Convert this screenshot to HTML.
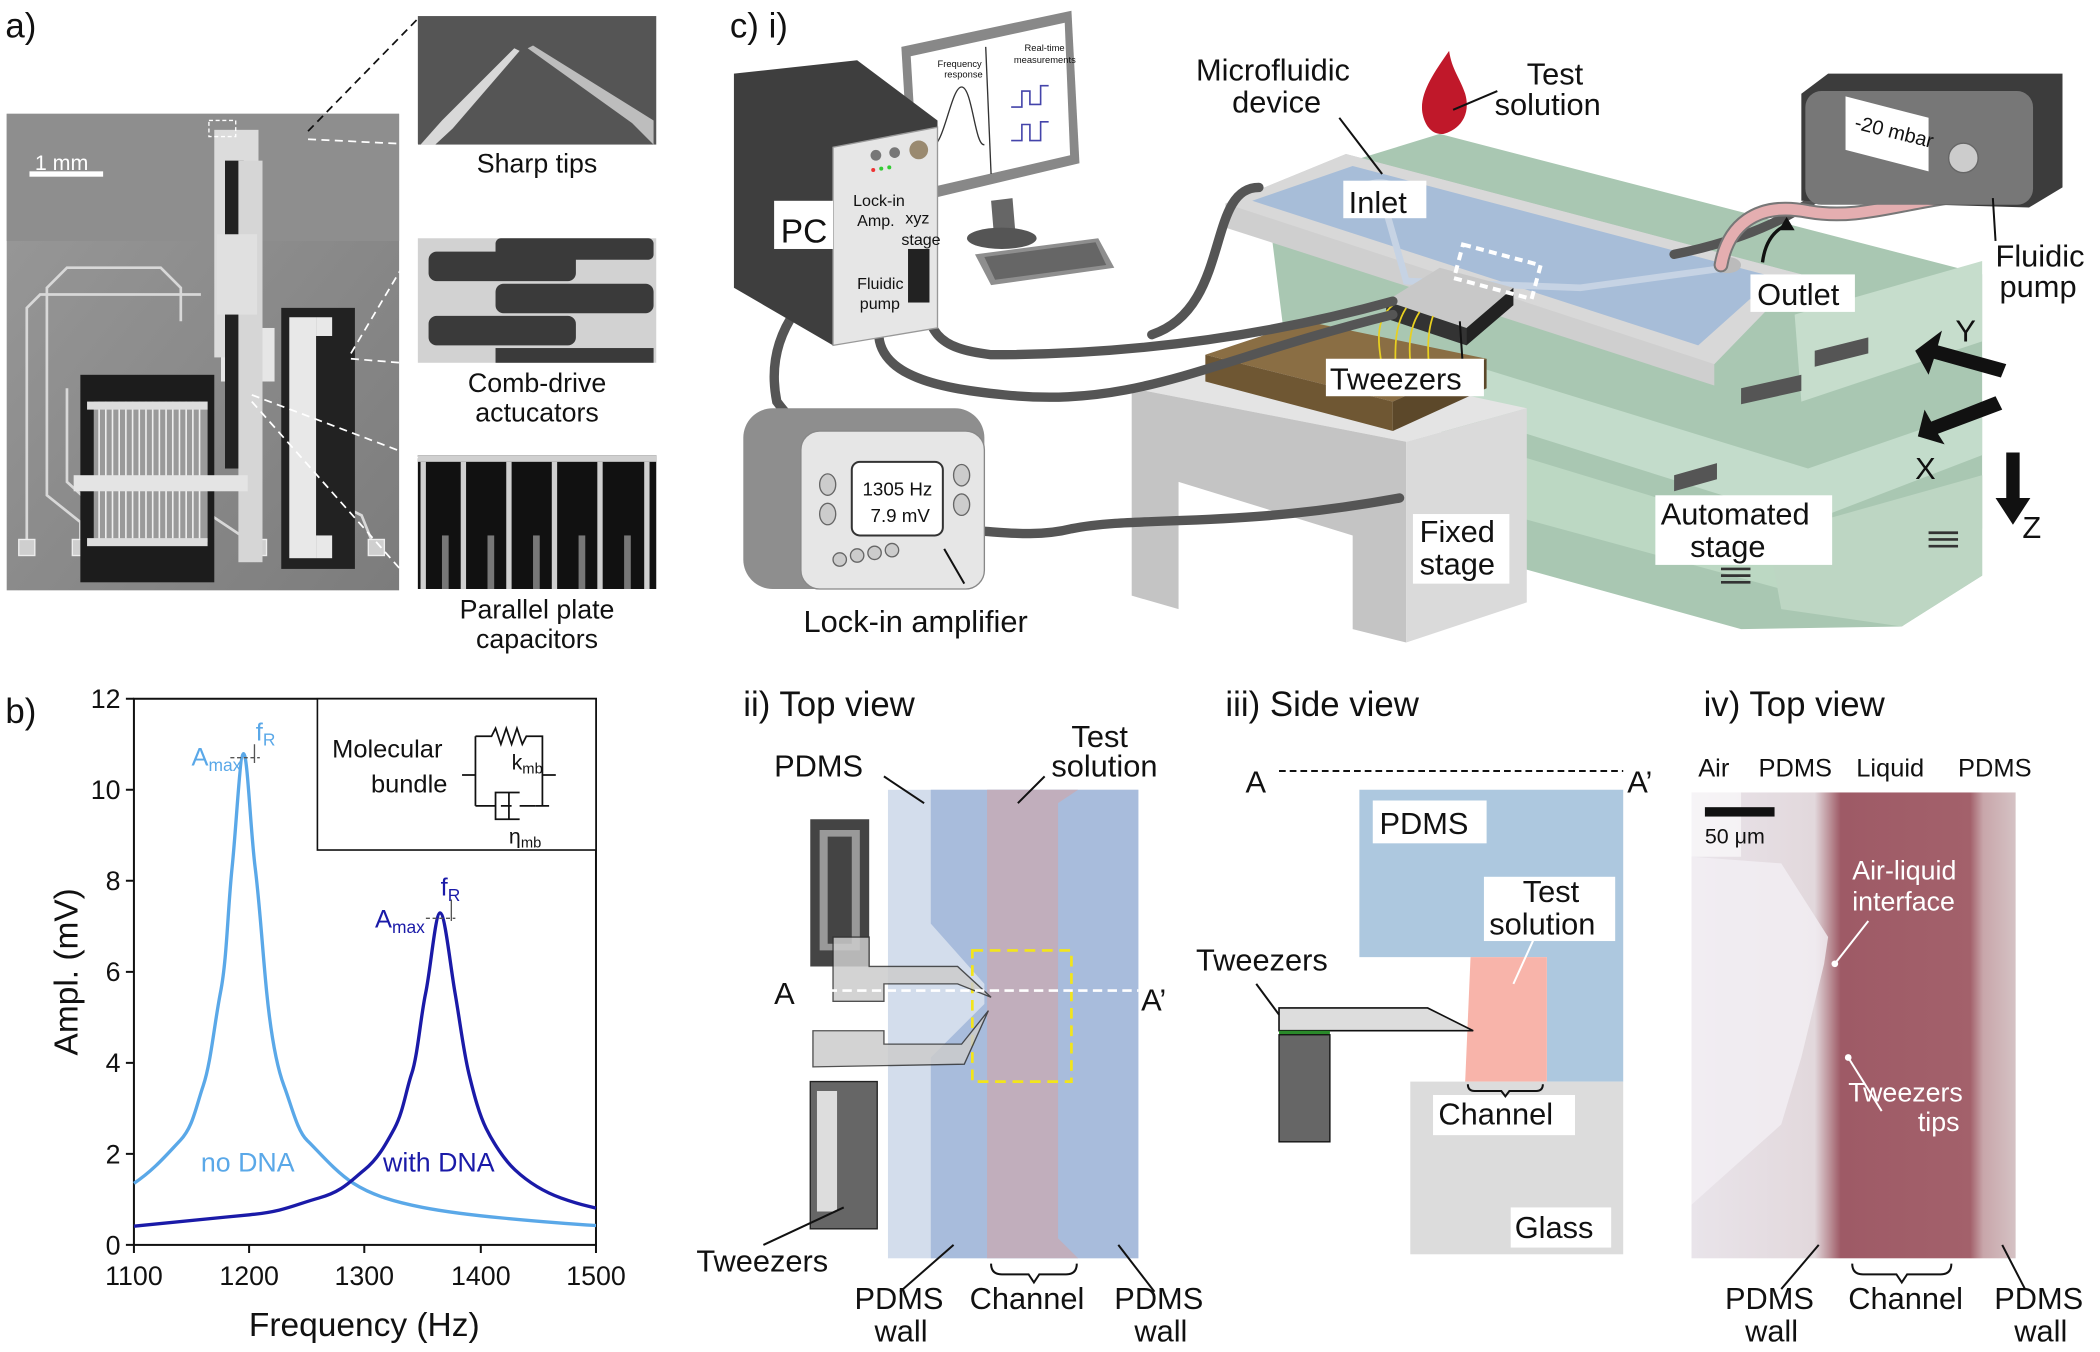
<!DOCTYPE html>
<html><head><meta charset="utf-8"><style>
html,body{margin:0;padding:0;background:#fff}
svg{display:block}
text{font-family:"Liberation Sans",Arial,sans-serif;fill:#111}
</style></head><body>
<svg width="2100" height="1352" viewBox="0 0 1568 1010" preserveAspectRatio="none" xmlns="http://www.w3.org/2000/svg">
<defs>
<linearGradient id="sem" x1="0" y1="0" x2="1" y2="1"><stop offset="0" stop-color="#9a9a9a"/><stop offset="1" stop-color="#7c7c7c"/></linearGradient>
<linearGradient id="iv" x1="0" y1="0" x2="1" y2="0"><stop offset="0" stop-color="#e9e4ea"/><stop offset="0.38" stop-color="#e2d8dc"/><stop offset="0.43" stop-color="#b88a92"/><stop offset="0.46" stop-color="#9e5a66"/><stop offset="0.86" stop-color="#a3616b"/><stop offset="0.9" stop-color="#c8a6aa"/><stop offset="1" stop-color="#d5c2c4"/></linearGradient>
</defs>

<!-- ========== Panel a ========== -->
<text x="4" y="28" font-size="26">a)</text>
<rect x="5" y="85" width="293" height="356" fill="url(#sem)"/>
<rect x="5" y="85" width="293" height="95" fill="#8e8e8e"/>
<rect x="22" y="128" width="55" height="4" fill="#fff"/>
<text x="26" y="127" font-size="16" style="fill:#fff">1 mm</text>
<g fill="none" stroke="#d8d8d8" stroke-width="2">
<path d="M20,410 V230 L30,220 H150"/><path d="M60,410 V390 L35,370 V215 L50,200 H120 L135,215 V240"/>
<path d="M105,410 L50,360 V290"/><path d="M150,410 L65,355"/><path d="M195,410 L150,380 V345"/>
<path d="M240,410 L215,385 V340"/><path d="M280,410 L270,385 L250,375"/>
</g>
<g fill="#cfcfcf" stroke="#eee" stroke-width="1">
<rect x="14" y="403" width="12" height="12"/><rect x="54" y="403" width="12" height="12"/><rect x="98" y="403" width="12" height="12"/><rect x="143" y="403" width="12" height="12"/><rect x="187" y="403" width="12" height="12"/><rect x="231" y="403" width="12" height="12"/><rect x="275" y="403" width="12" height="12"/>
</g>
<rect x="165" y="245" width="40" height="40" fill="#e6e6e6"/>
<rect x="160" y="97" width="33" height="170" fill="#dcdcdc"/>
<rect x="168" y="120" width="14" height="230" fill="#222"/>
<rect x="178" y="120" width="18" height="300" fill="#d6d6d6"/>
<rect x="162" y="175" width="30" height="60" fill="#e0e0e0"/>
<rect x="210" y="230" width="55" height="195" fill="#222"/>
<rect x="216" y="237" width="20" height="180" fill="#e8e8e8"/>
<rect x="236" y="237" width="12" height="14" fill="#e8e8e8"/><rect x="236" y="400" width="12" height="17" fill="#e8e8e8"/>
<rect x="60" y="280" width="100" height="155" fill="#1c1c1c"/>
<rect x="70" y="300" width="85" height="105" fill="#9a9a9a"/>
<g stroke="#eee" stroke-width="1.2"><path d="M74,300V405M79,300V405M84,300V405M89,300V405M94,300V405M99,300V405M104,300V405M109,300V405M114,300V405M119,300V405M124,300V405M129,300V405M134,300V405M139,300V405M144,300V405M149,300V405"/></g>
<rect x="55" y="355" width="130" height="12" fill="#e4e4e4"/>
<rect x="65" y="300" width="90" height="6" fill="#ddd"/><rect x="65" y="402" width="90" height="6" fill="#ddd"/>
<rect x="312" y="12" width="178" height="96" fill="#555"/>
<polygon points="314,108 330,90 384,36 388,38 338,96 325,108" fill="#d8d8d8"/>
<polygon points="488,108 472,92 394,36 398,34 488,90" fill="#bdbdbd"/>
<rect x="312" y="178" width="178" height="93" fill="#d2d2d2"/>
<g fill="#3a3a3a"><rect x="320" y="188" width="110" height="22" rx="6"/><rect x="320" y="236" width="110" height="22" rx="6"/><rect x="370" y="178" width="118" height="16" rx="4"/><rect x="370" y="212" width="118" height="22" rx="6"/><rect x="370" y="260" width="118" height="11"/></g>
<rect x="312" y="340" width="178" height="100" fill="#111"/>
<g fill="#d0d0d0"><rect x="312" y="340" width="178" height="5"/><rect x="314" y="345" width="4" height="95"/><rect x="344" y="345" width="4" height="95"/><rect x="378" y="345" width="4" height="95"/><rect x="412" y="345" width="4" height="95"/><rect x="446" y="345" width="4" height="95"/><rect x="481" y="345" width="4" height="95"/></g>
<g fill="#777"><rect x="330" y="400" width="5" height="40"/><rect x="364" y="400" width="5" height="40"/><rect x="398" y="400" width="5" height="40"/><rect x="432" y="400" width="5" height="40"/><rect x="466" y="400" width="5" height="40"/></g>
<g stroke="#111" stroke-width="1.3" stroke-dasharray="6,4" fill="none"><path d="M230,98 L312,14"/><path d="M230,104 L312,108" stroke="#fff"/><path d="M262,264 L312,180" stroke="#fff"/><path d="M262,268 L312,272" stroke="#fff"/><path d="M188,295 L312,342" stroke="#fff"/><path d="M188,300 L312,440" stroke="#fff"/></g>
<rect x="156" y="90" width="20" height="12" fill="none" stroke="#fff" stroke-width="1" stroke-dasharray="3,2"/>
<text x="401" y="129" font-size="20" text-anchor="middle">Sharp tips</text>
<text x="401" y="293" font-size="20" text-anchor="middle">Comb-drive</text>
<text x="401" y="315" font-size="20" text-anchor="middle">actucators</text>
<text x="401" y="462" font-size="20" text-anchor="middle">Parallel plate</text>
<text x="401" y="484" font-size="20" text-anchor="middle">capacitors</text>

<!-- ========== Panel b ========== -->
<text x="4" y="540" font-size="26">b)</text>
<rect x="100" y="522" width="345" height="408" fill="none" stroke="#111" stroke-width="1.5"/>
<g stroke="#111" stroke-width="1.5"><path d="M100,930h-6M100,862h-6M100,794h-6M100,726h-6M100,658h-6M100,590h-6M100,522h-6"/>
<path d="M100,930v6M186,930v6M272,930v6M359,930v6M445,930v6"/></g>
<g font-size="20" text-anchor="end"><text x="90" y="937">0</text><text x="90" y="869">2</text><text x="90" y="801">4</text><text x="90" y="733">6</text><text x="90" y="665">8</text><text x="90" y="597">10</text><text x="90" y="529">12</text></g>
<g font-size="20" text-anchor="middle"><text x="100" y="960">1100</text><text x="186" y="960">1200</text><text x="272" y="960">1300</text><text x="359" y="960">1400</text><text x="445" y="960">1500</text></g>
<text x="272" y="998" font-size="25" text-anchor="middle">Frequency (Hz)</text>
<text transform="translate(58,726) rotate(-90)" font-size="25" text-anchor="middle">Ampl. (mV)</text>
<path d="M100,884 C115,874 125,862 134.5,852 S146,828 151.75,811 S160,765 164.7,741 S170,680 173.3,648 S179,563 181.9,563 S187,620 190.5,648 S196,710 199.1,741 S206,795 212,811 S222,845 229.4,852 S250,875 263.9,884 S295,898 315.6,902 S355,908 376,910 S420,914 445,915.5" fill="none" stroke="#5aa8e8" stroke-width="2.5"/>
<path d="M100,916 C140,912 160,910 186.25,907.5 S220,900 238,895 S262,882 272,874 S288,855 294.5,843 S303,815 307.4,802 S314,760 317.8,742 S325,682 328.6,682 S336,720 339.8,742 S346,785 350.1,802 S358,833 363,843 S376,866 384.6,874 S405,890 419,895 S435,900 445,902.5" fill="none" stroke="#1a1aa8" stroke-width="2.5"/>
<path d="M172,566h22M318,686h22" stroke="#555" stroke-dasharray="3,2"/>
<path d="M190,556v14M337,672v16" stroke="#555"/>
<text x="143" y="572" font-size="19" style="fill:#5aa8e8">A<tspan font-size="13" dy="4">max</tspan></text>
<text x="191" y="553" font-size="19" style="fill:#5aa8e8">f<tspan font-size="13" dy="4">R</tspan></text>
<text x="280" y="693" font-size="19" style="fill:#1a1aa8">A<tspan font-size="13" dy="4">max</tspan></text>
<text x="329" y="669" font-size="19" style="fill:#1a1aa8">f<tspan font-size="13" dy="4">R</tspan></text>
<text x="150" y="875" font-size="20" style="fill:#5aa8e8">no DNA</text>
<text x="286" y="875" font-size="20" style="fill:#1a1aa8">with DNA</text>
<rect x="237" y="522" width="208" height="113" fill="#fff" stroke="#111" stroke-width="1.2"/>
<text x="248" y="566" font-size="19">Molecular</text>
<text x="277" y="592" font-size="19">bundle</text>
<g fill="none" stroke="#111" stroke-width="1.3"><path d="M345,579h10M355,550v52M355,550h12l3,-6 4,12 4,-12 4,12 4,-12 4,12 3,-6h12v52M355,602h15M410,602h-10M405,579h10"/><path d="M382,592h-12v20h12M374,602h8M388,592h-8v20h8M388,602h12"/></g>
<text x="382" y="575" font-size="16">k<tspan font-size="11" dy="3">mb</tspan></text>
<text x="380" y="630" font-size="16">η<tspan font-size="11" dy="3">mb</tspan></text>

<!-- ========== Panel c i ========== -->
<text x="545" y="28" font-size="26">c) i)</text>
<polygon points="945,140 1075,100 1480,205 1480,430 1420,468 1300,470 1120,420 1100,330 1000,300 960,260" fill="#a9c7b2"/>
<polygon points="1100,330 1330,400 1480,355 1480,395 1330,440 1110,380" fill="#bcd8c3"/>
<polygon points="1090,270 1350,350 1480,305 1480,340 1350,390 1095,310" fill="#c3dccb"/>
<polygon points="1340,235 1480,195 1480,255 1345,300" fill="#c6ddcc"/>
<polygon points="1320,400 1480,355 1480,430 1420,468 1330,455" fill="#bdd6c3"/>
<polygon points="1250,355 1282,346 1282,358 1250,367" fill="#555"/><polygon points="1300,290 1345,280 1345,292 1300,302" fill="#555"/><polygon points="1355,262 1395,252 1395,264 1355,274" fill="#555"/>
<g fill="none" stroke="#333" stroke-width="2"><path d="M1285,425h22M1285,430h22M1285,435h22M1440,398h22M1440,403h22M1440,408h22"/></g>
<polygon points="845,290 940,262 1140,305 1050,330" fill="#e4e4e4"/>
<polygon points="845,290 1050,330 1050,480 1010,470 1010,400 880,360 880,455 845,445" fill="#c4c4c4"/>
<polygon points="1050,330 1140,305 1140,450 1050,480" fill="#dadada"/>
<polygon points="900,265 975,240 1110,268 1040,300" fill="#8a6e44"/>
<polygon points="900,265 1040,300 1040,322 900,285" fill="#6f5733"/>
<polygon points="1040,300 1110,268 1110,290 1040,322" fill="#5c482a"/>
<polygon points="915,152 1005,115 1345,205 1280,272 1280,288 915,170" fill="#cfcfcf"/>
<polygon points="915,152 1005,115 1345,205 1280,272" fill="#d8d8d8"/>
<polygon points="935,150 1010,124 1325,207 1268,258" fill="#a7bdd8"/>
<path d="M1030,140 L1050,210 L1180,215 L1290,200" stroke="#c6d3e4" stroke-width="5" fill="none"/>
<ellipse cx="1030" cy="140" rx="14" ry="6" fill="#c9d6e6"/>
<ellipse cx="1290" cy="198" rx="10" ry="6" fill="#bbb"/>
<polygon points="1035,225 1075,200 1130,215 1095,245" fill="#c8c8c8"/>
<polygon points="1035,225 1095,245 1095,258 1035,238" fill="#333"/>
<polygon points="1095,245 1130,215 1130,228 1095,258" fill="#222"/>
<rect x="1088" y="190" width="60" height="26" fill="none" stroke="#fff" stroke-width="3" stroke-dasharray="6,4" transform="rotate(15 1118 203)"/>
<g fill="none" stroke="#e8d020" stroke-width="1.3"><path d="M1040,228 C1025,240 1030,260 1032,275M1050,230 C1040,245 1042,265 1042,280M1060,233 C1050,248 1052,268 1055,282M1070,236 C1065,250 1066,268 1068,282"/></g>
<g fill="none" stroke="#555" stroke-width="7" stroke-linecap="round">
<path d="M660,182 C600,210 570,250 580,300 C595,320 600,320 605,318"/>
<path d="M690,205 C690,250 700,260 740,265 C850,265 950,250 1040,225"/>
<path d="M660,230 C640,280 700,290 750,295 C850,305 900,270 1040,235"/>
<path d="M940,140 C900,140 920,230 860,250"/>
<path d="M705,400 C720,390 760,405 800,395 C850,385 920,395 1045,372"/>
<path d="M1250,190 C1300,180 1350,160 1375,130"/>
</g>
<path d="M1285,198 C1290,170 1310,150 1350,158 C1390,165 1420,150 1475,145" fill="none" stroke="#777" stroke-width="11" stroke-linecap="round"/>
<path d="M1285,198 C1290,170 1310,150 1350,158 C1390,165 1420,150 1475,145" fill="none" stroke="#e4aeb0" stroke-width="8" stroke-linecap="round"/>
<path d="M1316,196 C1318,180 1325,172 1334,168" fill="none" stroke="#111" stroke-width="2.5"/>
<polygon points="1334,162 1340,172 1328,172" fill="#111"/>
<!-- monitor -->
<polygon points="740,150 756,148 758,172 742,174" fill="#666"/>
<ellipse cx="748" cy="178" rx="26" ry="8" fill="#555"/>
<polygon points="673,35 800,8 806,122 680,152" fill="#888"/>
<polygon points="680,42 795,17 799,116 686,142" fill="#fff"/>
<path d="M736,35 L740,130" stroke="#333"/>
<path d="M695,110 C705,110 710,65 718,65 S728,110 735,108" fill="none" stroke="#333" stroke-width="1"/>
<path d="M755,80h8v-12h6v10h8v-14h6M755,105h8v-12h6v12h8v-14h6" fill="none" stroke="#44a" stroke-width="1.2"/>
<g font-size="7"><text x="700" y="50">Frequency</text><text x="705" y="58">response</text><text x="765" y="38">Real-time</text><text x="757" y="47">measurements</text></g>
<polygon points="728,190 820,178 832,200 740,213" fill="#8e8e8e"/>
<polygon points="735,192 818,181 826,198 743,209" fill="#666"/>
<!-- PC -->
<polygon points="548,55 640,45 700,90 700,100 622,110 622,258 548,215" fill="#3e3e3e"/>
<polygon points="622,110 700,95 700,245 622,258" fill="#e6e6e6" stroke="#999"/>
<circle cx="654" cy="116" r="4" fill="#777"/><circle cx="668" cy="114" r="4" fill="#777"/><circle cx="686" cy="112" r="7" fill="#9a8a70"/>
<circle cx="652" cy="127" r="1.5" fill="#e33"/><circle cx="658" cy="126" r="1.5" fill="#3c3"/><circle cx="664" cy="125" r="1.5" fill="#3c3"/>
<rect x="678" y="186" width="16" height="40" fill="#222"/>
<rect x="578" y="150" width="44" height="36" fill="#fff"/>
<text x="583" y="181" font-size="25">PC</text>
<g font-size="12"><text x="637" y="154">Lock-in</text><text x="640" y="169">Amp.</text><text x="676" y="167">xyz</text><text x="673" y="183">stage</text><text x="640" y="216">Fluidic</text><text x="642" y="231">pump</text></g>
<!-- lock-in amplifier -->
<rect x="555" y="305" width="180" height="135" rx="22" fill="#8e8e8e"/>
<rect x="598" y="322" width="137" height="118" rx="14" fill="#e6e6e6" stroke="#888"/>
<rect x="636" y="345" width="68" height="55" rx="6" fill="#fff" stroke="#333" stroke-width="1.5"/>
<text x="644" y="370" font-size="14">1305  Hz</text><text x="650" y="390" font-size="14">7.9  mV</text>
<g fill="#ccc" stroke="#666"><ellipse cx="618" cy="362" rx="6" ry="8"/><ellipse cx="618" cy="384" rx="6" ry="8"/><ellipse cx="718" cy="355" rx="6" ry="8"/><ellipse cx="718" cy="377" rx="6" ry="8"/><circle cx="627" cy="418" r="5"/><circle cx="640" cy="415" r="5"/><circle cx="653" cy="413" r="5"/><circle cx="666" cy="411" r="5"/></g>
<!-- pump -->
<polygon points="1345,70 1365,55 1540,55 1540,140 1515,155 1345,150" fill="#3c3c3c"/>
<rect x="1348" y="68" width="170" height="85" rx="12" fill="#777"/>
<polygon points="1378,72 1440,88 1440,128 1378,112" fill="#fff"/>
<text transform="translate(1384,96) rotate(14)" font-size="15">-20 mbar</text>
<circle cx="1466" cy="118" r="11" fill="#ccc" stroke="#666"/>
<!-- drop -->
<path d="M1078,100 C1092,96 1098,84 1094,70 C1090,58 1084,52 1082,38 C1070,55 1060,70 1062,84 C1064,95 1070,101 1078,100Z" fill="#c0182a"/>
<g fill="#111"><polygon points="1430,262 1450,247 1447,258 1498,272 1494,282 1444,268 1440,280"/><polygon points="1432,326 1437,306 1442,315 1490,296 1495,306 1447,324 1452,332"/><polygon points="1498,338 1508,338 1508,372 1516,372 1503,392 1490,372 1498,372"/></g>
<g font-size="23"><text x="1460" y="255">Y</text><text x="1430" y="358">X</text><text x="1510" y="402">Z</text></g>
<g stroke="#111" stroke-width="1.5" fill="none"><path d="M1000,88 L1032,130"/><path d="M1118,68 L1085,82"/><path d="M1490,180 L1488,148"/><path d="M1092,270 L1090,240"/><path d="M720,436 L705,410"/></g>
<g font-size="23">
<text x="893" y="60">Microfluidic</text><text x="920" y="84">device</text>
<text x="1140" y="63">Test</text><text x="1116" y="86">solution</text>
<rect x="1003" y="135" width="62" height="28" fill="#fff"/><text x="1007" y="159">Inlet</text>
<rect x="1307" y="205" width="78" height="28" fill="#fff"/><text x="1312" y="228">Outlet</text>
<text x="1490" y="199">Fluidic</text><text x="1493" y="222">pump</text>
<rect x="990" y="268" width="118" height="28" fill="#fff"/><text x="993" y="291">Tweezers</text>
<rect x="1055" y="384" width="72" height="52" fill="#fff"/><text x="1060" y="405">Fixed</text><text x="1060" y="429">stage</text>
<rect x="1236" y="370" width="132" height="52" fill="#fff"/><text x="1240" y="392">Automated</text><text x="1262" y="416">stage</text>
<text x="600" y="472">Lock-in amplifier</text>
</g>

<!-- ========== Panel ii ========== -->
<text x="555" y="535" font-size="26">ii) Top view</text>
<rect x="663" y="590" width="187" height="350" fill="#d3ddec"/>
<polygon points="695,590 850,590 850,940 695,940 695,790 735,750 735,735 695,690" fill="#a8bcdc"/>
<polygon points="737,590 805,590 790,600 790,925 805,940 737,940" fill="#c1aebc"/>
<rect x="726" y="710" width="74" height="98" fill="none" stroke="#f3e51a" stroke-width="2" stroke-dasharray="8,5"/>
<path d="M605,612h44v110h-44z" fill="#444"/><path d="M612,620h30v90h-30z" fill="#999"/><path d="M618,625h18v80h-18z" fill="#444"/>
<polygon points="622,700 649,700 649,722 715,722 740,745 715,735 660,735 660,748 622,748" fill="#ccc" stroke="#333" opacity="0.85"/>
<polygon points="607,770 660,770 660,780 718,780 738,755 720,795 607,797" fill="#ccc" stroke="#333" opacity="0.85"/>
<path d="M605,808h50v110h-50z" fill="#666" stroke="#222"/><path d="M610,815h15v90h-15z" fill="#ddd"/>
<path d="M585,740H850" stroke="#fff" stroke-width="2" stroke-dasharray="7,4"/>
<g font-size="23"><text x="578" y="750">A</text><text x="852" y="755">A’</text><text x="578" y="580">PDMS</text><text x="800" y="558">Test</text><text x="785" y="580">solution</text><text x="520" y="950">Tweezers</text><text x="638" y="978">PDMS</text><text x="653" y="1002">wall</text><text x="724" y="978">Channel</text><text x="832" y="978">PDMS</text><text x="847" y="1002">wall</text></g>
<g stroke="#111" stroke-width="1.5" fill="none"><path d="M660,580 L690,600"/><path d="M780,580 L760,600"/><path d="M570,930 L630,902"/><path d="M672,965 L712,930"/><path d="M862,965 L835,930"/><path d="M740,944 q0,8 8,8 h20 l4,6 l4,-6 h20 q8,0 8,-8"/></g>

<!-- ========== Panel iii ========== -->
<text x="915" y="535" font-size="26">iii) Side view</text>
<path d="M955,576H1212" stroke="#111" stroke-width="1.5" stroke-dasharray="5,3"/>
<g font-size="23"><text x="930" y="592">A</text><text x="1215" y="592">A’</text></g>
<polygon points="1015,590 1212,590 1212,808 1155,808 1155,715 1015,715" fill="#adc8df"/>
<polygon points="1098,715 1155,715 1155,808 1094,808" fill="#f8b4aa"/>
<rect x="1053" y="808" width="159" height="129" fill="#dcdcdc"/>
<polygon points="955,753 1066,753 1100,770 955,770" fill="#ddd" stroke="#111" stroke-width="1.2"/>
<rect x="955" y="770" width="38" height="3" fill="#2a8a2a"/>
<rect x="955" y="773" width="38" height="80" fill="#666" stroke="#111"/>
<g font-size="23">
<rect x="1025" y="598" width="85" height="32" fill="#fff"/><text x="1030" y="623">PDMS</text>
<rect x="1108" y="655" width="98" height="48" fill="#fff"/><text x="1137" y="674">Test</text><text x="1112" y="698">solution</text>
<text x="893" y="725">Tweezers</text>
<rect x="1070" y="818" width="106" height="30" fill="#fff"/><text x="1074" y="840">Channel</text>
<rect x="1128" y="902" width="75" height="30" fill="#fff"/><text x="1131" y="925">Glass</text>
</g>
<g stroke="#111" stroke-width="1.5" fill="none"><path d="M938,735 L955,758"/><path d="M1096,810 q0,5 5,5 h20 l3,4 l3,-4 h20 q5,0 5,-5"/></g>
<path d="M1145,702 L1130,735" stroke="#fff" stroke-width="1.5"/>

<!-- ========== Panel iv ========== -->
<text x="1272" y="535" font-size="26">iv) Top view</text>
<rect x="1263" y="592" width="242" height="348" fill="url(#iv)"/>
<polygon points="1263,592 1300,592 1300,640 1263,640" fill="#fff" opacity="0.6"/>
<polygon points="1263,640 1330,645 1365,700 1362,720 1345,790 1330,840 1263,900" fill="#f3eff4" opacity="0.8"/>
<rect x="1273" y="603" width="52" height="7" fill="#111"/>
<g font-size="19"><text x="1268" y="580">Air</text><text x="1313" y="580">PDMS</text><text x="1386" y="580">Liquid</text><text x="1462" y="580">PDMS</text><text x="1273" y="630" font-size="16">50 μm</text></g>
<g font-size="20"><text x="1383" y="657" style="fill:#fff">Air-liquid</text><text x="1383" y="680" style="fill:#fff">interface</text><text x="1380" y="823" style="fill:#fff">Tweezers</text><text x="1432" y="845" style="fill:#fff">tips</text></g>
<g stroke="#fff" stroke-width="1.5"><path d="M1395,688 L1370,720"/><path d="M1380,790 L1405,830"/></g>
<circle cx="1370" cy="720" r="2.5" fill="#fff"/><circle cx="1380" cy="790" r="2.5" fill="#fff"/>
<g font-size="23"><text x="1288" y="978">PDMS</text><text x="1303" y="1002">wall</text><text x="1380" y="978">Channel</text><text x="1489" y="978">PDMS</text><text x="1504" y="1002">wall</text></g>
<g stroke="#111" stroke-width="1.5" fill="none"><path d="M1330,963 L1358,930"/><path d="M1512,963 L1495,930"/><path d="M1383,944 q0,8 8,8 h25 l4,6 l4,-6 h25 q8,0 8,-8"/></g>
</svg>
</body></html>
